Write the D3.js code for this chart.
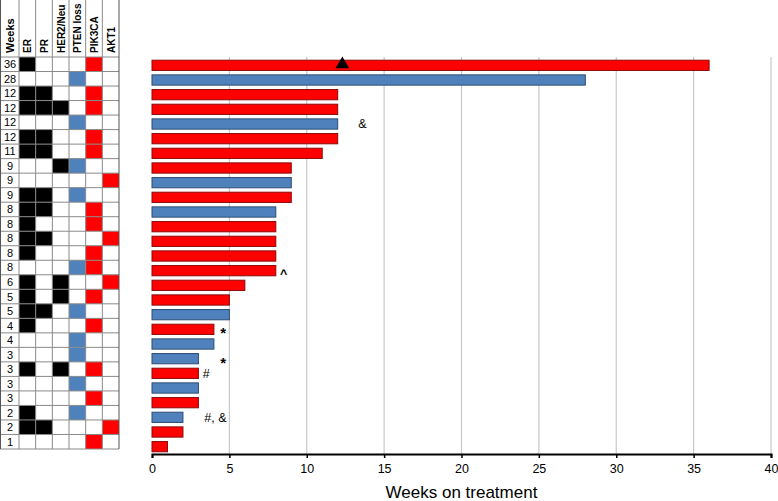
<!DOCTYPE html>
<html>
<head>
<meta charset="utf-8">
<script src="https://cdn.jsdelivr.net/npm/d3@7/dist/d3.min.js"></script>
<style>
  body { margin: 0; background: #fff; }
  svg { display: block; font-family: "Liberation Sans", Arial, sans-serif; }
</style>
</head>
<body>
<svg id="chart" width="778" height="501"></svg>
<script>
// ---- Data ----
const weeks = [36, 28, 12, 12, 12, 12, 11, 9, 9, 9, 8, 8, 8, 8, 8, 6, 5, 5, 4, 4, 3, 3, 3, 3, 2, 2, 1];
// bar type: "r" = red, "b" = blue
const barType = ["r","b","r","r","b","r","r","r","b","r","b","r","r","r","r","r","r","b","r","b","b","r","b","r","b","r","r"];
const annotations = [
  {row: 4, x: 13.6, text: "&"},
  {row: 14, x: 8.5, text: "^"},
  {row: 18, x: 4.6, text: "*"},
  {row: 20, x: 4.6, text: "*"},
  {row: 21, x: 3.5, text: "#"},
  {row: 24, x: 4.1, text: "#, &"}
];
const triangleAt = {row: 0, x: 12.3};
const columns = ["ER", "PR", "HER2/Neu", "PTEN loss", "PIK3CA", "AKT1"];
// table cells per row: ER, PR, HER2, PTEN, PIK3CA, AKT1 ; 0 = empty, "k" = black, "b" = blue, "r" = red
const ER   = ["k",0,"k","k",0,"k","k",0,0,"k","k","k","k","k",0,"k","k","k","k",0,0,"k",0,0,"k","k",0];
const PR   = [0,0,"k","k",0,"k","k",0,0,"k","k",0,"k",0,0,0,0,"k",0,0,0,0,0,0,0,"k",0];
const HER2 = [0,0,0,"k",0,0,0,"k",0,0,0,0,0,0,0,"k","k",0,0,0,0,"k",0,0,0,0,0];
const PTEN = [0,"b",0,0,"b",0,0,"b",0,"b",0,0,0,0,"b",0,0,"b",0,"b","b",0,"b",0,"b",0,0];
const PIK3CA = ["r",0,"r","r",0,"r","r",0,0,0,"r","r",0,"r","r",0,"r",0,"r",0,0,"r",0,"r",0,0,"r"];
const AKT1 = [0,0,0,0,0,0,0,0,"r",0,0,0,"r",0,0,"r",0,0,0,0,0,0,0,0,0,"r",0];
const xTicks = [0, 5, 10, 15, 20, 25, 30, 35, 40];

const colorFill = {r: "#ff0000", b: "#4f81bd", k: "#000000"};
const colorStroke = {r: "#8b0a0a", b: "#2c4d75"};

const svg = d3.select("#chart");
const rows = d3.range(weeks.length);

// ---- Bar chart ----
const x = d3.scaleLinear().domain([0, 40]).range([152, 771]);
const y = d3.scaleBand().domain(rows).range([58, 454]).paddingInner(0.3).paddingOuter(0.15);

// gridlines
svg.append("g").selectAll("line").data(xTicks.filter(d => d > 0)).join("line")
  .attr("x1", d => x(d)).attr("x2", d => x(d))
  .attr("y1", 57).attr("y2", 454)
  .attr("stroke", "#c8c8c8").attr("stroke-width", 1.2);

// bars
svg.append("g").selectAll("rect").data(rows).join("rect")
  .attr("x", x(0))
  .attr("y", d => y(d))
  .attr("width", d => x(weeks[d]) - x(0))
  .attr("height", y.bandwidth())
  .attr("fill", d => colorFill[barType[d]])
  .attr("stroke", d => colorStroke[barType[d]])
  .attr("stroke-width", 1);

// axis
const axis = d3.axisBottom(x).tickValues(xTicks).tickSize(4).tickPadding(6);
const gx = svg.append("g").attr("transform", "translate(0,454)").call(axis);
gx.select(".domain").attr("stroke", "#000").attr("stroke-width", 2);
gx.selectAll(".tick line").attr("stroke", "#000").attr("stroke-width", 1.5);
gx.selectAll(".tick text").attr("font-size", 12.5).attr("fill", "#000")
  .attr("font-family", "'Liberation Sans', Arial, sans-serif");

svg.append("text")
  .attr("x", x(20)).attr("y", 498)
  .attr("text-anchor", "middle")
  .attr("font-size", 17)
  .text("Weeks on treatment");

// triangle marker
svg.append("path")
  .attr("d", d3.symbol().type(d3.symbolTriangle).size(80)())
  .attr("transform", `translate(${x(triangleAt.x)},${y(triangleAt.row) + y.bandwidth()/2 - 1})`)
  .attr("fill", "#000");

// annotations
svg.append("g").selectAll("text").data(annotations).join("text")
  .attr("x", d => x(d.x))
  .attr("y", d => y(d.row) + y.bandwidth()/2)
  .attr("dy", d => d.text === "*" ? "0.6em" : (d.text === "^" ? "0.55em" : "0.35em"))
  .attr("text-anchor", "middle")
  .attr("font-size", d => d.text === "*" ? 15 : 12.5)
  .attr("font-weight", d => (d.text === "^" || d.text === "*") ? "bold" : "normal")
  .text(d => d.text);

// ---- Table ----
const tableCols = ["Weeks"].concat(columns);
const colEdges = [0, 19].concat(d3.range(1, 7).map(i => 19 + i * 100 / 6));
const tx = i => colEdges[i];
const ty = d3.scaleBand().domain(rows).range([57, 449]);
const cellData = [ER, PR, HER2, PTEN, PIK3CA, AKT1];

const table = svg.append("g");
// colored cells
cellData.forEach((col, ci) => {
  table.append("g").selectAll("rect").data(rows.filter(r => col[r])).join("rect")
    .attr("x", tx(ci + 1))
    .attr("y", r => ty(r))
    .attr("width", tx(ci + 2) - tx(ci + 1))
    .attr("height", ty.bandwidth())
    .attr("fill", r => colorFill[col[r]]);
});
// week labels
table.append("g").selectAll("text").data(rows).join("text")
  .attr("x", (tx(0) + tx(1)) / 2 + 0.5)
  .attr("y", r => ty(r) + ty.bandwidth() / 2)
  .attr("dy", "0.36em")
  .attr("text-anchor", "middle")
  .attr("font-size", 11)
  .text(r => weeks[r]);
// header texts
table.append("g").selectAll("text").data(tableCols).join("text")
  .attr("transform", (d, i) => `translate(${(tx(i) + tx(i + 1)) / 2 + 0.5},53) rotate(-90)`)
  .attr("dy", "0.36em")
  .attr("text-anchor", "start")
  .attr("font-size", (d, i) => i === 0 ? 11 : 10)
  .attr("font-weight", "bold")
  .text(d => d);
// grid lines
table.append("g").selectAll("line.h").data(d3.range(weeks.length + 1)).join("line")
  .attr("x1", 0).attr("x2", tx(7))
  .attr("y1", i => i < weeks.length ? ty(i) : ty(weeks.length - 1) + ty.bandwidth())
  .attr("y2", i => i < weeks.length ? ty(i) : ty(weeks.length - 1) + ty.bandwidth())
  .attr("stroke", "#8a8a8a").attr("stroke-width", 1);
table.append("g").selectAll("line.v").data(d3.range(8)).join("line")
  .attr("x1", i => Math.max(tx(i), 0.5)).attr("x2", i => Math.max(tx(i), 0.5))
  .attr("y1", 0).attr("y2", 449)
  .attr("stroke", i => (i === 0 || i === 7) ? "#555" : "#8a8a8a").attr("stroke-width", 1);
</script>
</body>
</html>
